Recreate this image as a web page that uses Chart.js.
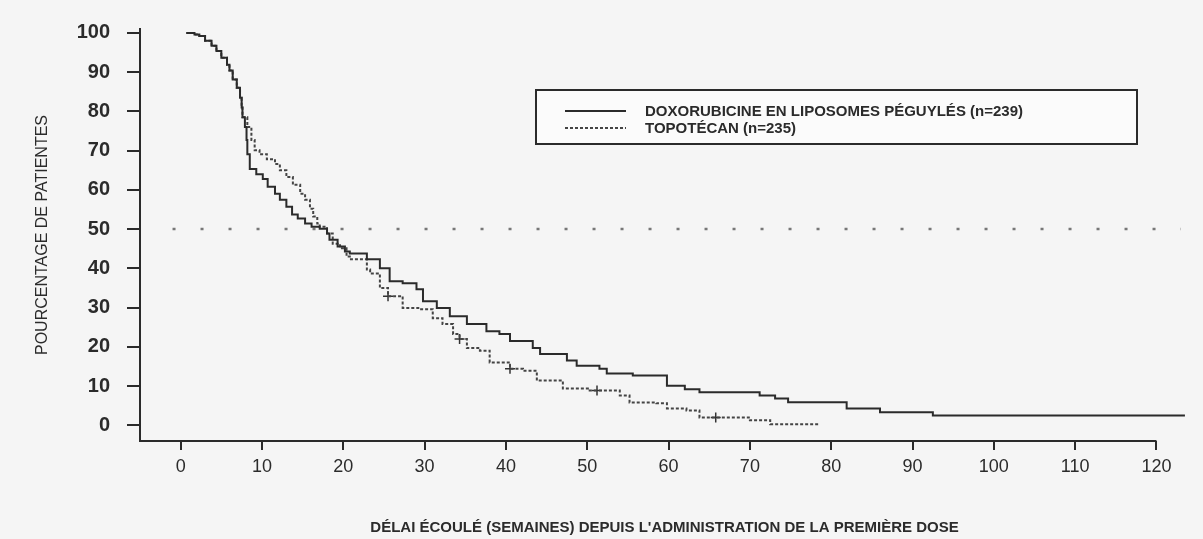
<!DOCTYPE html>
<html lang="fr">
<head>
<meta charset="utf-8">
<title>Survie - Doxorubicine vs Topotécan</title>
<script src="https://cdn.jsdelivr.net/npm/chart.js@4.4.1/dist/chart.umd.min.js"></script>
<style>
    body { margin: 0; background: #f5f5f5; }
    #wrap { position: relative; width: 1203px; height: 539px; }
</style>
</head>
<body>
<div id="wrap"><canvas id="myChart"></canvas></div>
<script>
// courbes de Kaplan-Meier (semaines, % de patientes)
const doxWeeks = [0.7, 1.7, 2.3, 3.0, 3.8, 4.4, 5.0, 5.7, 6.0, 6.4, 6.9, 7.3, 7.5, 7.6, 7.9, 8.1, 8.2, 8.5, 9.3, 10.1,
    10.7, 11.6, 12.2, 13, 13.7, 14.4, 15.3, 16.1, 17.1, 18, 18.3, 19.3, 20.2, 20.8, 22.9, 24.5, 25.7, 27.3, 29, 29.8,
    31.5, 33.1, 35.2, 37.6, 39.2, 40.5, 43.3, 44.2, 47.5, 48.7, 51.5, 52.4, 55.6, 59.8, 62, 63.8, 71.2, 73.1, 74.7,
    81.9, 86, 92.5, 123.5];
const doxPct = [100, 99.6, 99.2, 98, 96.7, 95.4, 93.7, 91.9, 90.4, 88.1, 86, 83.5, 81, 78.5, 76, 72.7, 69.1, 65.3, 64, 62.8,
    60.8, 59, 57.5, 55.7, 53.7, 52.7, 51.4, 50.6, 50.1, 48.9, 47.3, 45.6, 44.3, 43.8, 42.3, 40, 36.7, 36.2, 34.7, 31.6,
    29.9, 27.8, 25.8, 24, 23.3, 21.5, 19.7, 18.2, 16.5, 15.2, 14.4, 13.2, 12.7, 10.1, 9.2, 8.4, 7.6, 6.8, 5.9,
    4.3, 3.3, 2.5, 2.5];

const topoWeeks = [0.7, 1.7, 2.3, 3.0, 3.8, 4.4, 5.0, 5.7, 6.0, 6.4, 6.9, 7.3, 7.5, 7.6, 8.2, 8.7, 9.1, 9.7, 10.6, 11.6,
    12.2, 13, 13.8, 14.7, 15.3, 15.9, 16.3, 16.8, 17.1, 18, 18.7, 19.6, 20.4, 20.8, 22.9, 23.3, 24.5, 25.5, 27.3, 29.4,
    31, 32.2, 33.5, 34.3, 35.2, 36.8, 38, 40.5, 42.1, 43.8, 47, 50.3, 54, 55.2, 58.5, 59.8, 62.2, 63.8, 70, 72.5, 78.6];
const topoPct = [100, 99.6, 99.2, 98, 96.7, 95.4, 93.7, 91.9, 90.4, 88.1, 86, 83.5, 81, 78.5, 76, 72.7, 70.1, 69.1, 67.8, 66.6,
    65, 63.3, 61.3, 59, 57.5, 55.2, 53.2, 51.4, 50.6, 48.9, 46.3, 45.1, 43, 42.3, 39.7, 38.7, 35, 32.9, 29.9, 29.6,
    27.3, 25.8, 23.3, 22, 19.7, 19, 16, 14.4, 13.9, 11.4, 9.4, 8.9, 7.6, 5.8, 5.6, 4.3, 3.8, 2, 1.3, 0.3, 0.3];

// patientes censurées (+) sur la courbe topotécan
const topoCensorWeeks = [25.5, 34.3, 40.5, 51.2, 65.8];
const topoCensorPct = [32.9, 22, 14.4, 8.9, 2];

// ligne pointillée de la médiane
const medianWeeks = [-1, 123];
const medianPct = [50, 50];

const xTicks = [0, 10, 20, 30, 40, 50, 60, 70, 80, 90, 100, 110, 120];
const yTicks = [0, 10, 20, 30, 40, 50, 60, 70, 80, 90, 100];

const labels = ['DOXORUBICINE EN LIPOSOMES PÉGUYLÉS (n=239)', 'TOPOTÉCAN (n=235)'];

const FONT = "'Liberation Sans', Arial, Helvetica, sans-serif";
const INK = '#2b2b2b';

chartPage = (function () {

    function toPoints(xs, ys) {
        return xs.map(function (x, i) {
            return {x: x, y: ys[i]};
        });
    }

    // legende encadree dans la zone du graphique
    const boxLegend = {
        id: 'boxLegend',
        afterDraw: function (chart) {
            let ctx = chart.ctx;
            ctx.save();
            ctx.fillStyle = '#fbfbfb';
            ctx.fillRect(536, 90, 601, 54);
            ctx.strokeStyle = INK;
            ctx.lineWidth = 2;
            ctx.strokeRect(536, 90, 601, 54);
            ctx.font = 'bold 15px ' + FONT;
            ctx.textBaseline = 'middle';
            let rows = [111, 128];
            for (let i = 0; i < 2; i++) {
                let ds = chart.data.datasets[i];
                ctx.strokeStyle = ds.borderColor;
                ctx.lineWidth = ds.borderWidth;
                ctx.setLineDash(ds.borderDash || []);
                ctx.beginPath();
                ctx.moveTo(565, rows[i]);
                ctx.lineTo(626, rows[i]);
                ctx.stroke();
                ctx.setLineDash([]);
                ctx.fillStyle = INK;
                ctx.fillText(ds.label, 645, rows[i] + 1);
            }
            ctx.restore();
        }
    };

    // l'axe des x s'arrete a 120 semaines
    const xAxisLine = {
        id: 'xAxisLine',
        afterDraw: function (chart) {
            let x = chart.scales.x;
            let ctx = chart.ctx;
            ctx.save();
            ctx.strokeStyle = INK;
            ctx.lineWidth = 2;
            ctx.beginPath();
            ctx.moveTo(x.getPixelForValue(x.min), chart.chartArea.bottom);
            ctx.lineTo(x.getPixelForValue(xTicks[xTicks.length - 1]), chart.chartArea.bottom);
            ctx.stroke();
            ctx.restore();
        }
    };

    function drawChart() {
        let ctx = document.getElementById('myChart');
        let myChart = new Chart(ctx, {
            type: 'line',
            data: {
                datasets: [{
                    label: labels[0],
                    data: toPoints(doxWeeks, doxPct),
                    borderColor: INK,
                    borderWidth: 2,
                    stepped: 'before',
                    pointRadius: 0
                }, {
                    label: labels[1],
                    data: toPoints(topoWeeks, topoPct),
                    borderColor: '#444',
                    borderWidth: 2,
                    borderDash: [3, 2],
                    stepped: 'before',
                    pointRadius: 0
                }, {
                    label: 'censure',
                    data: toPoints(topoCensorWeeks, topoCensorPct),
                    showLine: false,
                    pointStyle: 'cross',
                    pointRadius: 5,
                    pointBorderWidth: 1.5,
                    pointBorderColor: '#333'
                }, {
                    label: 'médiane',
                    data: toPoints(medianWeeks, medianPct),
                    borderColor: '#777',
                    borderWidth: 2.5,
                    borderDash: [3, 25],
                    pointRadius: 0
                }]
            },
            options: {
                responsive: true,
                maintainAspectRatio: false,
                animation: false,
                layout: {padding: {top: 26, right: 14, left: 0, bottom: 0}},
                plugins: {
                    legend: {display: false},
                    tooltip: {enabled: false}
                },
                scales: {
                    x: {
                        type: 'linear',
                        min: -5,
                        max: 124,
                        afterBuildTicks: function (scale) {
                            scale.ticks = xTicks.map(function (v) {
                                return {value: v};
                            });
                        },
                        afterFit: function (scale) {
                            scale.height = 98;
                        },
                        border: {display: false},
                        grid: {drawOnChartArea: false, drawTicks: true, tickLength: 9, color: INK, lineWidth: 2},
                        ticks: {color: INK, padding: 6, maxRotation: 0, autoSkip: false, font: {family: FONT, size: 18}},
                        title: {
                            display: true,
                            text: "DÉLAI ÉCOULÉ (SEMAINES) DEPUIS L'ADMINISTRATION DE LA PREMIÈRE DOSE",
                            color: INK,
                            padding: {top: 0, bottom: 2},
                            font: {family: FONT, size: 15, weight: 'bold'}
                        }
                    },
                    y: {
                        min: -4,
                        max: 101,
                        afterBuildTicks: function (scale) {
                            scale.ticks = yTicks.map(function (v) {
                                return {value: v};
                            });
                        },
                        afterFit: function (scale) {
                            scale.width = 140;
                        },
                        border: {display: true, color: INK, width: 2},
                        grid: {drawOnChartArea: false, drawTicks: true, tickLength: 13, color: INK, lineWidth: 2},
                        ticks: {color: INK, padding: 17, font: {family: FONT, size: 20, weight: 'bold'}},
                        title: {
                            display: true,
                            text: 'POURCENTAGE DE PATIENTES',
                            color: INK,
                            padding: {top: 33, bottom: 0},
                            font: {family: FONT, size: 16}
                        }
                    }
                }
            },
            plugins: [boxLegend, xAxisLine]
        });
    }

    return {
        drawChart: drawChart
    }
})();

document.addEventListener('DOMContentLoaded', function () {
    chartPage.drawChart();
});
</script>
</body>
</html>
